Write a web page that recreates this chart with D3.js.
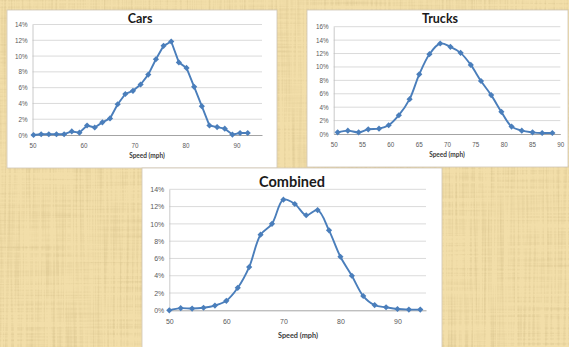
<!DOCTYPE html>
<html>
<head>
<meta charset="utf-8">
<script src="https://cdn.jsdelivr.net/npm/d3@7"></script>
<style>
  html, body { margin: 0; padding: 0; background: #efd9a3; overflow: hidden; }
  svg { display: block; font-family: Lato, "Open Sans", sans-serif; }
</style>
</head>
<body>
<svg id="chart" width="569" height="347"></svg>
<script>
// Speed distributions (share of vehicles, %) by observed speed (mph)
const carsSpeed = [50.2, 51.7, 53.2, 54.7, 56.2, 57.7, 59.2, 60.7, 62.2, 63.7, 65.2, 66.7, 68.2, 69.7, 71.2,
                   72.7, 74.2, 75.7, 77.2, 78.7, 80.2, 81.7, 83.2, 84.7, 86.2, 87.7, 89.2, 90.7, 92.2];
const carsShare = [0.0, 0.1, 0.1, 0.1, 0.1, 0.45, 0.3, 1.2, 0.95, 1.6, 2.1, 3.9, 5.2, 5.6, 6.4,
                   7.65, 9.6, 11.3, 11.85, 9.2, 8.5, 6.1, 3.65, 1.2, 1.0, 0.8, 0.05, 0.25, 0.25];

const trucksSpeed = [50.7, 52.5, 54.4, 56.1, 58.0, 59.7, 61.5, 63.4, 65.1, 66.9, 68.8,
                     70.6, 72.4, 74.2, 76.0, 77.8, 79.6, 81.4, 83.2, 85.1, 86.8, 88.6];
const trucksShare = [0.25, 0.5, 0.25, 0.7, 0.8, 1.3, 2.8, 5.2, 8.9, 11.9, 13.5,
                     13.0, 12.1, 10.3, 7.9, 5.8, 3.3, 1.1, 0.5, 0.25, 0.15, 0.15];

const combinedSpeed = [50, 52, 54, 56, 58, 60, 62, 64, 66, 68, 70, 72,
                       74, 76, 78, 80, 82, 84, 86, 88, 90, 92, 94];
const combinedShare = [0.0, 0.25, 0.2, 0.3, 0.55, 1.1, 2.6, 5.0, 8.75, 10.0, 12.8, 12.3,
                       11.0, 11.6, 9.25, 6.2, 4.0, 1.65, 0.6, 0.35, 0.15, 0.08, 0.08];

// Axis ticks
const carsXTicks = [50, 60, 70, 80, 90];
const trucksXTicks = [50, 55, 60, 65, 70, 75, 80, 85, 90];
const combinedXTicks = [50, 60, 70, 80, 90];
const yTicks14 = [0, 2, 4, 6, 8, 10, 12, 14];
const yTicks16 = [0, 2, 4, 6, 8, 10, 12, 14, 16];

const titles = ["Cars", "Trucks", "Combined"];
const xAxisLabel = "Speed (mph)";

const svg = d3.select("#chart");
const W = 569, H = 347;

// ---- papyrus backdrop: crossed vertical and horizontal fibres ----
const defs = svg.append("defs");
const f = defs.append("filter").attr("id", "fibres")
  .attr("x", 0).attr("y", 0).attr("width", W).attr("height", H)
  .attr("filterUnits", "userSpaceOnUse");
f.append("feTurbulence").attr("type", "fractalNoise").attr("baseFrequency", "0.45 0.01")
  .attr("numOctaves", 2).attr("seed", 4).attr("result", "v");
f.append("feTurbulence").attr("type", "fractalNoise").attr("baseFrequency", "0.01 0.45")
  .attr("numOctaves", 2).attr("seed", 9).attr("result", "h");
f.append("feComposite").attr("in", "v").attr("in2", "h").attr("operator", "arithmetic")
  .attr("k2", 0.6).attr("k3", 0.4).attr("result", "n");
f.append("feColorMatrix").attr("in", "n").attr("type", "matrix")
  .attr("values", "0 0 0 0 0.66  0 0 0 0 0.52  0 0 0 0 0.25  -3.6 0 0 0 2.0");

svg.append("rect").attr("width", W).attr("height", H).attr("fill", "#f2dea9");
svg.append("rect").attr("width", W).attr("height", H).attr("fill", "#000")
  .attr("filter", "url(#fibres)").attr("opacity", 0.5);

// ---- panels ----
const panels = [
  { title: titles[0], speed: carsSpeed, share: carsShare, xTicks: carsXTicks, yTicks: yTicks14,
    box: [7, 10, 270, 158], xDom: [50, 95], xRng: [32.5, 262], yDom: [0, 14], yRng: [135, 24.5],
    titleAt: [140, 23], titleSize: 12.5, labelAt: [147, 157.5], labelSize: 6.5, tickSize: 6.3,
    xTickY: 147.5, curve: d3.curveLinear },
  { title: titles[1], speed: trucksSpeed, share: trucksShare, xTicks: trucksXTicks, yTicks: yTicks16,
    box: [307, 10, 261, 157], xDom: [50, 90], xRng: [333.7, 560.3], yDom: [0, 16], yRng: [134, 26.7],
    titleAt: [440, 23], titleSize: 12.5, labelAt: [447, 157], labelSize: 6.5, tickSize: 6.3,
    xTickY: 147, curve: d3.curveCatmullRom.alpha(0.5) },
  { title: titles[2], speed: combinedSpeed, share: combinedShare, xTicks: combinedXTicks, yTicks: yTicks14,
    box: [142, 168, 300, 182], xDom: [50, 95], xRng: [169.3, 426], yDom: [0, 14], yRng: [310.3, 189.3],
    titleAt: [292, 187], titleSize: 14.5, labelAt: [298, 338], labelSize: 7.3, tickSize: 7,
    xTickY: 324.5, curve: d3.curveCatmullRom.alpha(0.5) }
];

const blue = "#4a7ebb";
const diamond = d3.symbol().type(d3.symbolSquare).size(19);

panels.forEach(p => {
  const g = svg.append("g");
  const [bx, by, bw, bh] = p.box;
  g.append("rect").attr("x", bx).attr("y", by).attr("width", bw).attr("height", bh)
    .attr("fill", "#ffffff").attr("stroke", "#cfc6b4").attr("stroke-width", 0.8);

  const x = d3.scaleLinear().domain(p.xDom).range(p.xRng);
  const y = d3.scaleLinear().domain(p.yDom).range(p.yRng);

  // horizontal gridlines
  g.append("g").selectAll("line").data(p.yTicks.filter(t => t > 0)).join("line")
    .attr("x1", x(p.xDom[0])).attr("x2", x(p.xDom[1]))
    .attr("y1", d => y(d)).attr("y2", d => y(d))
    .attr("stroke", "#d6d6d6").attr("stroke-width", 0.9);

  // axes
  const yAxis = d3.axisLeft(y).tickValues(p.yTicks).tickSize(0).tickPadding(5)
    .tickFormat(d => d + "%");
  const xAxis = d3.axisBottom(x).tickValues(p.xTicks).tickSize(0).tickPadding(0);

  const ya = g.append("g").attr("transform", `translate(${x(p.xDom[0])},0)`).call(yAxis);
  ya.select(".domain").attr("stroke", "#bdbdbd").attr("stroke-width", 0.8);
  ya.selectAll("text").attr("fill", "#5a5a5a").attr("font-size", p.tickSize).attr("font-family", null);

  const xa = g.append("g").attr("transform", `translate(0,${y(0)})`).call(xAxis);
  xa.select(".domain").attr("stroke", "#9a9a9a").attr("stroke-width", 0.9);
  xa.selectAll("text").attr("fill", "#5a5a5a").attr("font-size", p.tickSize).attr("font-family", null)
    .attr("dy", null).attr("y", p.xTickY - y(0));

  // title and axis label
  g.append("text").attr("x", p.titleAt[0]).attr("y", p.titleAt[1]).attr("text-anchor", "middle")
    .attr("font-weight", "bold").attr("font-size", p.titleSize).attr("fill", "#1a1a1a").text(p.title);
  g.append("text").attr("x", p.labelAt[0]).attr("y", p.labelAt[1]).attr("text-anchor", "middle")
    .attr("font-weight", "bold").attr("font-size", p.labelSize).attr("fill", "#3a3a3a").text(xAxisLabel);

  // series
  const pts = p.speed.map((s, i) => [s, p.share[i]]);
  g.append("path").datum(pts)
    .attr("d", d3.line().x(d => x(d[0])).y(d => y(d[1])).curve(p.curve))
    .attr("fill", "none").attr("stroke", blue).attr("stroke-width", 1.9).attr("stroke-linejoin", "round");
  g.append("g").selectAll("path").data(pts).join("path")
    .attr("d", diamond)
    .attr("transform", d => `translate(${x(d[0])},${y(d[1])}) rotate(45)`)
    .attr("fill", blue);
});
</script>
</body>
</html>
